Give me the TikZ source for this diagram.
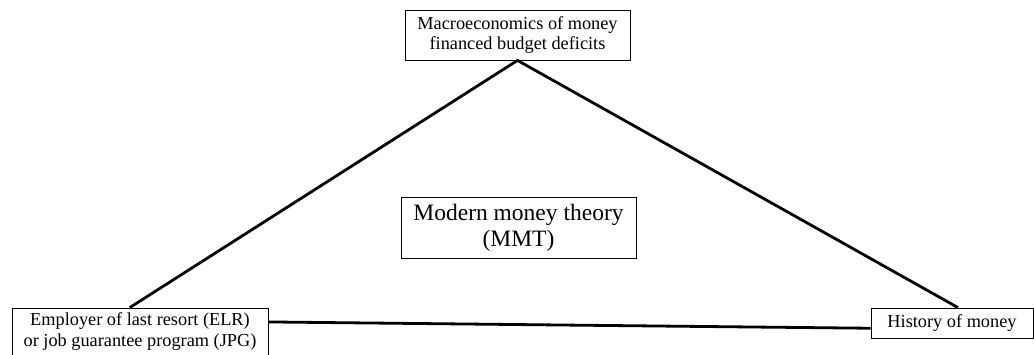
\documentclass[tikz,border=0pt]{standalone}
\usepackage{fontspec}
\setmainfont{Liberation Serif}
\usetikzlibrary{calc}
\begin{document}
\begin{tikzpicture}[x=1pt,y=-1pt,
  boxnode/.style={draw=black,line width=0.8pt,fill=white,align=center,inner sep=0pt,font=\fontsize{18.3}{20.5}\selectfont},
  link/.style={line width=2.8pt,black}]
\useasboundingbox (0,0) rectangle (1034,354);
\node[boxnode,minimum width=235pt,minimum height=61pt,font=\fontsize{23.5}{26}\selectfont] (mmt) at (518.5,227.5) {Modern money theory\\(MMT)};
\node[boxnode,minimum width=225pt,minimum height=50pt] (macro) at (517.5,35) {Macroeconomics of money\\financed budget deficits};
\node[boxnode,minimum width=256pt,minimum height=47pt] (elr) at (140,331.5) {Employer of last resort (ELR)\\or job guarantee program (JPG)};
\node[boxnode,minimum width=162pt,minimum height=30pt] (hist) at (952,323) {History of money};
\coordinate (elrtop) at ($(elr.north west)!0.46!(elr.north east)$);
\coordinate (histtop) at ($(hist.north west)!0.537!(hist.north east)$);
\coordinate (elrright) at ($(elr.north east)!0.3!(elr.south east)$);
\coordinate (histleft) at ($(hist.north west)!0.67!(hist.south west)$);
\draw[link] (elrtop) -- (macro.south) -- (histtop);
\draw[link] (elrright) -- (histleft);
\end{tikzpicture}
\end{document}
